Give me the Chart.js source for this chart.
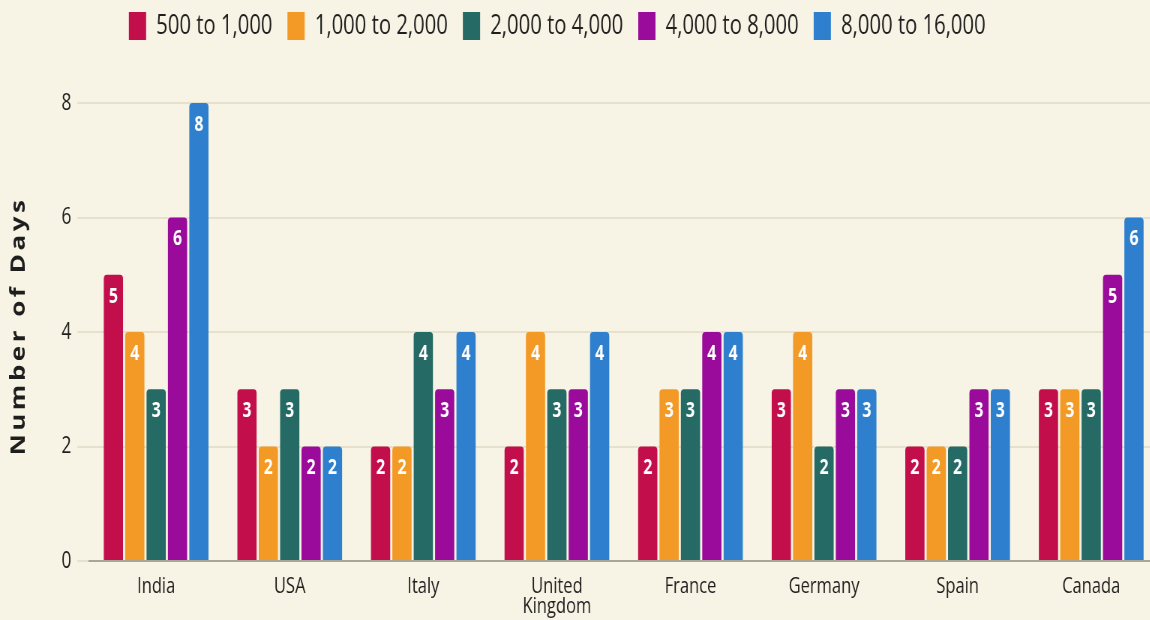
<!DOCTYPE html>
<html>
<head>
<meta charset="utf-8">
<script src="https://cdn.jsdelivr.net/npm/chart.js@4"></script>
<style>
  html, body { margin: 0; padding: 0; background: #f8f4e5; overflow: hidden; }
  /* the reference is squeezed horizontally, so draw wide and scale it down */
  #wrap { width: 1552px; height: 620px; transform: scaleX(0.75); transform-origin: 0 0; }
</style>
</head>
<body>
<div id="wrap"><canvas id="daysChart"></canvas></div>
<script>
// categories and series
const countries = ['India', 'USA', 'Italy', ['United', 'Kingdom'], 'France', 'Germany', 'Spain', 'Canada'];
const seriesNames = ['500 to 1,000', '1,000 to 2,000', '2,000 to 4,000', '4,000 to 8,000', '8,000 to 16,000'];
const days500 = [5, 3, 2, 2, 2, 3, 2, 3];
const days1000 = [4, 2, 2, 4, 3, 4, 2, 3];
const days2000 = [3, 3, 4, 3, 3, 2, 2, 3];
const days4000 = [6, 2, 3, 3, 4, 3, 3, 5];
const days8000 = [8, 2, 4, 4, 4, 3, 3, 6];
const yTicks = [0, 2, 4, 6, 8];

const colors = ['#c20f4b', '#f39a26', '#256a64', '#9a0b9b', '#2e80cf'];
const fontFamily = '"Open Sans", "Noto Sans", sans-serif';

const allSeries = [days500, days1000, days2000, days4000, days8000];

// Plugin para os números brancos dentro das barras
const barValues = {
    id: 'barValues',
    afterDatasetsDraw(chart) {
        const ctx = chart.ctx;
        ctx.save();
        ctx.fillStyle = '#ffffff';
        ctx.font = 'bold 21px ' + fontFamily;
        ctx.textAlign = 'center';
        ctx.textBaseline = 'middle';
        chart.data.datasets.forEach((ds, i) => {
            chart.getDatasetMeta(i).data.forEach((bar, j) => {
                ctx.fillText(ds.data[j], bar.x, bar.y + 22);
            });
        });
        ctx.restore();
    }
};

// Plugin para o título do eixo Y (com espaçamento entre letras)
const yTitle = {
    id: 'yTitle',
    afterDraw(chart) {
        const ctx = chart.ctx;
        ctx.save();
        ctx.translate(26, 326);
        ctx.rotate(-Math.PI / 2);
        ctx.fillStyle = '#1e1e1e';
        ctx.font = 'bold 26px ' + fontFamily;
        ctx.letterSpacing = '3.5px';
        ctx.textAlign = 'center';
        ctx.textBaseline = 'middle';
        ctx.fillText('Number of Days', 0, 0);
        ctx.restore();
    }
};

// Ajuste da legenda: altura fixa e deslocamento
const legendTweak = {
    id: 'legendTweak',
    beforeInit(chart) {
        const fit = chart.legend.fit;
        chart.legend.fit = function () {
            fit.bind(chart.legend)();
            this.height = 103;
        };
    },
    afterLayout(chart) {
        chart.legend.left -= 66;
        chart.legend.right -= 66;
        chart.legend.top -= 8;
    }
};

const ctx = document.getElementById('daysChart').getContext('2d');

new Chart(ctx, {
    type: 'bar',
    data: {
        labels: countries,
        datasets: allSeries.map((values, i) => ({
            label: seriesNames[i],
            data: values,
            backgroundColor: colors[i],
            borderRadius: 4,
            borderSkipped: 'start'
        }))
    },
    options: {
        responsive: true,
        maintainAspectRatio: false,
        animation: false,
        layout: {
            padding: { left: 74, right: 8, top: 0, bottom: 0 }
        },
        plugins: {
            legend: {
                position: 'top',
                labels: {
                    boxWidth: 23,
                    boxHeight: 28,
                    padding: 20,
                    color: '#1e1e1e',
                    font: { family: fontFamily, size: 27 }
                }
            },
            tooltip: { enabled: false }
        },
        scales: {
            x: {
                afterFit(axis) {
                    axis.height = 59;
                },
                grid: { display: false, drawTicks: false },
                border: { display: true, color: '#a9a598', width: 2 },
                ticks: {
                    color: '#1e1e1e',
                    padding: 16,
                    maxRotation: 0,
                    autoSkip: false,
                    font: { family: fontFamily, size: 22, lineHeight: 0.9 }
                }
            },
            y: {
                min: 0,
                max: 8,
                afterBuildTicks(axis) {
                    axis.ticks = yTicks.map(v => ({ value: v }));
                },
                grid: { color: '#e6e0cc', lineWidth: 2, tickLength: 16 },
                border: { display: false },
                ticks: {
                    color: '#1e1e1e',
                    padding: 8,
                    font: { family: fontFamily, size: 23 }
                }
            }
        }
    },
    plugins: [barValues, yTitle, legendTweak]
});
</script>
</body>
</html>
